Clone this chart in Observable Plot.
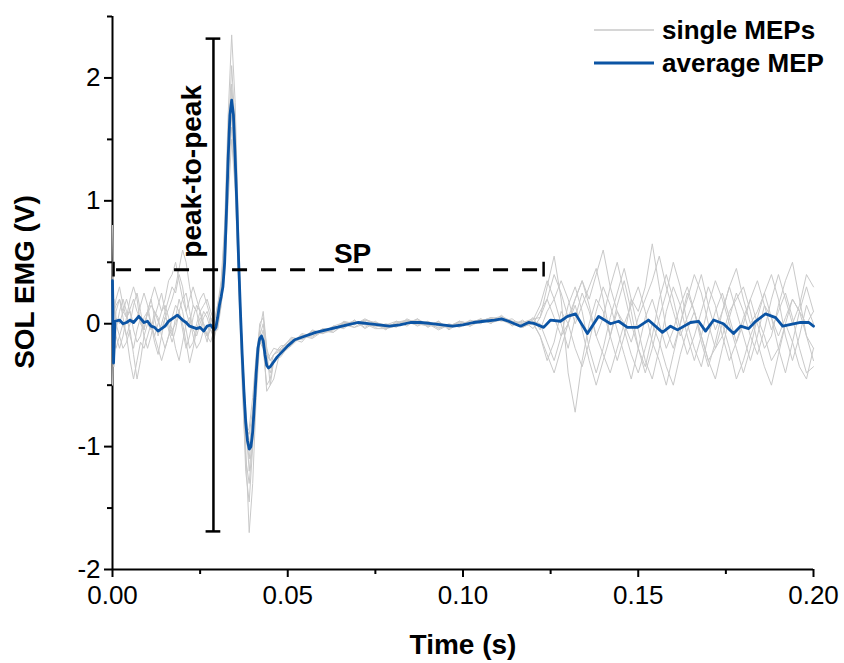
<!DOCTYPE html>
<html><head><meta charset="utf-8">
<script src="https://cdn.jsdelivr.net/npm/d3@7"></script>
<script src="https://cdn.jsdelivr.net/npm/@observablehq/plot@0.6"></script>
<style>body{margin:0;background:#fff;} svg{display:block;}</style>
</head><body><div id="chart"></div>
<script>
// ---------- data ----------
const time = [
  0, 0.0004, 0.001, 0.002, 0.003, 0.004, 0.005, 0.006, 0.007, 0.008, 0.009, 0.010, 0.011, 0.012, 0.013, 0.014, 0.015, 0.016, 0.017, 0.018, 0.019, 0.020, 0.021, 0.022, 0.023, 0.024, 0.025, 0.026, 0.027, 0.028, 0.029,
  0.030, 0.031, 0.032, 0.033, 0.034, 0.035, 0.036, 0.037, 0.038, 0.039, 0.040, 0.041, 0.042, 0.043, 0.044, 0.045, 0.046,
  0.048, 0.051, 0.054, 0.057, 0.060, 0.063, 0.066, 0.069, 0.072, 0.075, 0.078, 0.081, 0.084, 0.087, 0.090, 0.093, 0.096, 0.099, 0.102, 0.105, 0.108, 0.111, 0.114, 0.117, 0.120,
  0.122, 0.124, 0.126, 0.128, 0.130, 0.132, 0.134, 0.136, 0.138, 0.140, 0.142, 0.144, 0.146, 0.148, 0.150, 0.152, 0.154, 0.156, 0.158, 0.160,
  0.162, 0.164, 0.166, 0.168, 0.170, 0.172, 0.174, 0.176, 0.178, 0.180, 0.182, 0.184, 0.186, 0.188, 0.190, 0.192, 0.194, 0.196, 0.198, 0.200
];
const trace1 = [
  0.8, 0.1, 0.15,0.2,0.1,0.05,0.12,0.2,0.1,0.05,0.0,0.08, 0.15,0.1,0.02,-0.05,0.05,0.12,0.2,0.3,0.45,0.6, 0.5,0.3,0.15,0.1,0.2,0.25,0.15,0.05,0.0,
  0.15,0.35,0.8,1.7,2.35,1.8,0.7,-0.3,-1.0,-1.7,-1.3,-0.6,-0.15,-0.05,-0.3,-0.4,-0.3,
  -0.24,-0.17,-0.09,-0.11,-0.04,-0.07,0.01,-0.03,0.03,0.0,-0.05,0.02,-0.02,0.04,-0.03,0.02,-0.05,0.01,-0.02,0.04,0.0,0.07,-0.02,0.03,-0.04,
  0.05,0.3,0.55,0.2,-0.4,-0.72,-0.3,0.0,0.2,0.1, -0.1,0.15,0.35,0.1,-0.2,-0.35,-0.1,0.2,0.4,0.2, -0.05,-0.25,-0.1,0.1,0.3,0.15,-0.1,-0.3,-0.15,0.05, 0.2,0.0,-0.2,-0.1,0.15,0.35,0.5,0.2,-0.1,-0.2
];
const trace2 = [
  -0.5, 0.2, 0.0,-0.1,-0.2,-0.15,-0.05,-0.25,-0.45,-0.3,-0.1,0.0, -0.05,0.1,0.05,-0.1,-0.2,-0.1,0.05,0.15,0.1,0.0, -0.15,-0.32,-0.2,-0.05,0.05,0.0,-0.1,-0.05,-0.1,
  0.0,0.2,0.6,1.5,2.1,1.6,0.6,-0.4,-1.2,-1.45,-1.0,-0.4,-0.05,0.1,-0.2,-0.5,-0.45,
  -0.2,-0.12,-0.15,-0.05,-0.08,-0.02,-0.04,0.03,-0.03,0.02,-0.04,0.0,0.03,-0.02,0.02,-0.04,0.0,-0.03,0.03,0.0,0.05,0.02,0.04,-0.02,0.05,
  -0.05,0.1,0.2,0.35,0.2,0.0,0.15,0.3,0.45,0.2, -0.1,-0.3,-0.1,0.2,0.1,0.3,0.65,0.3,-0.05,-0.2, 0.0,0.25,0.1,-0.15,-0.35,-0.15,0.1,0.3,0.1,-0.1, -0.3,-0.1,0.15,0.05,-0.2,-0.4,-0.15,0.1,0.3,0.1
];
const trace3 = [
  0.3,-0.2, 0.1,0.2,0.05,-0.1,0.0,0.15,0.25,0.1,-0.05,0.1, 0.2,0.05,-0.1,0.0,0.1,0.2,0.3,0.25,0.4,0.3, 0.1,0.0,0.15,0.1,-0.05,0.05,0.1,0.0,-0.08,
  0.1,0.3,0.7,1.4,1.95,1.5,0.5,-0.2,-0.8,-1.2,-0.9,-0.45,-0.1,0.0,-0.25,-0.3,-0.25,
  -0.22,-0.14,-0.1,-0.09,-0.04,-0.05,0.02,0.0,0.02,-0.03,0.0,-0.03,0.04,0.0,-0.02,0.02,-0.04,0.02,0.0,0.04,0.01,0.03,0.0,-0.03,0.02,
  0.0,-0.15,-0.3,-0.1,0.15,0.3,0.1,-0.2,-0.4,-0.2, 0.05,0.25,0.45,0.2,-0.05,-0.3,-0.45,-0.2,0.1,0.3, 0.15,-0.1,-0.3,-0.1,0.15,0.35,0.2,0.0,-0.2,-0.4, -0.2,0.05,0.25,0.4,0.2,-0.1,-0.3,-0.1,0.15,0.0
];
const trace4 = [
  0.1,0.0, -0.1,-0.2,-0.1,0.05,0.1,-0.05,-0.15,-0.1,0.05,0.1, 0.0,-0.15,-0.25,-0.1,0.05,0.0,-0.1,0.05,0.2,0.1, -0.05,-0.2,-0.15,0.0,0.1,-0.05,-0.15,0.0,-0.02,
  0.05,0.2,0.5,1.3,1.8,1.3,0.5,-0.2,-0.7,-1.0,-0.75,-0.3,-0.1,-0.2,-0.35,-0.35,-0.25,
  -0.18,-0.17,-0.08,-0.1,-0.07,-0.02,-0.03,0.03,-0.04,0.01,-0.01,0.02,0.0,0.04,-0.01,-0.03,-0.02,0.02,-0.02,0.02,0.05,0.03,-0.01,0.02,0.0,
  0.1,0.2,0.05,-0.1,0.0,0.2,0.35,0.15,-0.1,-0.25, -0.4,-0.2,0.0,0.15,0.3,0.1,-0.15,-0.3,-0.5,-0.25, 0.0,0.2,0.4,0.25,0.0,-0.2,-0.1,0.1,0.2,0.3, 0.1,-0.15,-0.35,-0.5,-0.25,0.0,0.2,0.1,-0.1,-0.3
];
const trace5 = [
  -0.2,0.15, 0.05,0.0,0.1,0.2,0.1,0.0,0.05,0.15,0.25,0.15, 0.0,-0.1,0.0,0.1,0.15,0.05,-0.05,0.0,0.1,-0.05, -0.2,-0.1,0.05,0.15,0.1,0.0,-0.1,0.05,-0.05,
  0.1,0.25,0.6,1.3,1.7,1.25,0.4,-0.3,-0.85,-0.9,-0.7,-0.35,-0.15,-0.2,-0.5,-0.45,-0.3,
  -0.27,-0.15,-0.12,-0.06,-0.08,-0.05,0.01,-0.01,0.04,0.0,-0.03,0.01,0.03,0.0,0.02,-0.02,-0.01,0.0,0.02,0.03,0.04,0.06,0.02,0.0,0.03,
  0.15,0.35,0.2,0.0,-0.2,0.05,0.25,0.1,-0.1,0.05, 0.3,0.5,0.25,0.0,-0.2,-0.4,-0.2,0.05,0.25,0.5, 0.3,0.0,-0.2,-0.35,-0.1,0.1,0.25,0.05,-0.15,0.0, 0.2,0.35,0.15,-0.05,0.1,0.25,0.05,-0.2,-0.4,-0.35
];
const trace6 = [
  0.5,-0.35, -0.05,0.1,0.2,0.1,-0.1,-0.2,-0.05,0.05,-0.1,-0.2, -0.1,0.05,0.15,0.25,0.1,-0.05,-0.15,-0.05,0.1,0.2, 0.25,0.1,-0.05,-0.1,0.0,0.1,0.05,-0.05,-0.12,
  0.0,0.15,0.45,1.2,1.6,1.15,0.35,-0.35,-0.9,-0.85,-0.6,-0.25,-0.05,-0.15,-0.3,-0.25,-0.2,
  -0.22,-0.11,-0.13,-0.08,-0.05,-0.04,0.0,0.02,-0.01,-0.02,-0.03,-0.01,0.02,0.02,0.0,0.01,-0.03,-0.02,0.01,0.03,0.02,0.05,0.0,-0.02,0.0,
  -0.1,-0.3,-0.15,0.1,0.0,-0.2,-0.35,-0.15,0.1,0.3, 0.15,-0.05,-0.25,-0.45,-0.2,0.05,0.2,0.0,-0.2,-0.05, 0.15,0.3,0.1,-0.1,-0.3,-0.45,-0.2,0.05,0.25,0.1, -0.1,-0.25,-0.05,0.2,0.4,0.2,0.0,0.15,0.4,0.3
];
const trace7 = [
  -0.1,0.1, 0.2,0.3,0.15,0.05,0.2,0.3,0.2,0.0,-0.05,0.1, 0.2,0.3,0.2,0.1,0.2,0.35,0.4,0.5,0.35,0.2, 0.1,0.2,0.3,0.2,0.1,0.15,0.2,0.1,0.02,
  0.15,0.3,0.75,1.55,1.9,1.45,0.6,-0.25,-0.9,-1.1,-0.8,-0.35,0.0,0.05,-0.2,-0.3,-0.25,
  -0.2,-0.13,-0.12,-0.06,-0.08,-0.02,0.01,0.0,0.03,0.01,-0.02,0.0,0.02,0.03,-0.02,0.0,-0.03,0.02,0.0,0.02,0.05,0.04,0.02,0.01,0.04,
  0.05,0.2,0.4,0.25,0.05,0.2,0.35,0.2,0.4,0.6, 0.3,0.1,0.0,-0.15,0.05,0.2,0.35,0.55,0.3,0.1, -0.1,0.05,0.2,0.4,0.15,-0.05,0.1,0.3,0.45,0.2, 0.0,0.1,0.25,0.05,-0.1,0.05,0.2,0.1,0.0,0.1
];
const trace8 = [
  0.0,-0.15, -0.2,-0.1,0.0,-0.1,-0.3,-0.45,-0.3,-0.15,-0.2,-0.1, 0.0,-0.1,-0.2,-0.3,-0.2,-0.1,-0.05,-0.2,-0.3,-0.15, 0.0,0.05,-0.1,-0.2,-0.15,-0.05,-0.1,-0.15,-0.05,
  -0.05,0.15,0.4,1.0,1.5,1.1,0.3,-0.5,-1.1,-1.3,-0.95,-0.45,-0.1,-0.15,-0.55,-0.5,-0.3,
  -0.25,-0.18,-0.1,-0.12,-0.06,-0.07,-0.01,-0.03,0.0,-0.04,-0.04,-0.02,0.01,-0.01,0.0,-0.05,-0.01,-0.02,0.0,0.01,0.03,0.03,0.01,-0.03,0.01,
  -0.1,-0.25,-0.4,-0.2,0.0,0.15,-0.05,-0.3,-0.5,-0.3, -0.1,0.1,-0.05,-0.25,-0.4,-0.2,0.0,-0.15,-0.35,-0.5, -0.25,-0.05,0.1,-0.1,-0.3,-0.2,0.0,-0.2,-0.45,-0.3, -0.1,0.05,-0.1,-0.3,-0.2,0.0,-0.15,-0.35,-0.45,-0.2
];
const avgTime = [
  0, 0.0003, 0.0007, 0.002, 0.003, 0.004, 0.005, 0.006, 0.0075, 0.009, 0.010, 0.011, 0.012, 0.013, 0.014, 0.015, 0.016, 0.017, 0.0185, 0.020, 0.021, 0.022, 0.023, 0.024, 0.025, 0.026, 0.027, 0.028, 0.029,
  0.0295, 0.030, 0.0305, 0.031, 0.0315, 0.032, 0.0325, 0.033, 0.0335, 0.034, 0.0345, 0.035, 0.0355, 0.036, 0.0365, 0.037, 0.0375, 0.038, 0.0385, 0.039, 0.0395, 0.040, 0.0405, 0.041, 0.0415, 0.042, 0.0425, 0.043, 0.0435, 0.044, 0.0445, 0.045, 0.047,
  0.050, 0.052, 0.055, 0.058, 0.061, 0.064, 0.067, 0.070, 0.073, 0.076, 0.079, 0.082, 0.085, 0.088, 0.091, 0.094, 0.097, 0.100, 0.103, 0.106, 0.109, 0.111, 0.113, 0.1164, 0.1187, 0.1205,
  0.123, 0.125, 0.1278, 0.1298, 0.1321, 0.1355, 0.1387, 0.1421, 0.1444, 0.1469, 0.1498, 0.1529, 0.1569, 0.1592, 0.1612, 0.1649, 0.1672, 0.1692, 0.1715, 0.1743, 0.1772, 0.1792, 0.1815, 0.1835, 0.1863, 0.1892, 0.1912, 0.1963, 0.1986, 0.2
];
const avgValue = [
  0.35, -0.32, 0.02, 0.03, 0.0, 0.01, 0.03, 0.01, 0.06, 0.01, 0.02, -0.02, -0.03, -0.06, -0.04, -0.02, 0.02, 0.04, 0.07, 0.03, 0.01, -0.02, -0.03, -0.04, -0.03, -0.06, -0.02, -0.01, -0.05,
  -0.03, 0.05, 0.15, 0.22, 0.3, 0.5, 0.9, 1.35, 1.7, 1.82, 1.7, 1.35, 0.95, 0.5, 0.1, -0.25, -0.55, -0.8, -0.95, -1.02, -1.0, -0.88, -0.65, -0.4, -0.2, -0.12, -0.1, -0.14, -0.25, -0.34, -0.36, -0.35, -0.27,
  -0.18, -0.13, -0.1, -0.07, -0.05, -0.03, -0.01, 0.01, 0.0, -0.01, -0.02, -0.01, 0.01, 0.01, 0.0, -0.01, -0.02, -0.01, 0.01, 0.02, 0.03, 0.04, 0.02, -0.02, 0.01, 0.0,
  -0.03, 0.03, 0.02, 0.06, 0.08, -0.08, 0.06, 0.0, 0.02, -0.03, -0.03, 0.03, -0.07, -0.02, -0.05, 0.01, 0.02, -0.06, 0.03, 0.0, -0.08, -0.02, -0.04, 0.02, 0.08, 0.05, -0.02, 0.01, 0.01, -0.02
];
const xTicks = [0, 0.05, 0.10, 0.15, 0.20];
const xMinorTicks = [0.025, 0.075, 0.125, 0.175];
const yTicks = [-2, -1, 0, 1, 2];
const yMinorTicks = [-1.5, -0.5, 0.5, 1.5, 2.5];
const peakToPeak = {x: 0.0288, top: 2.32, bottom: -1.69, label: "peak-to-peak"};
const silentPeriod = {y: 0.44, start: 0.0003, end: 0.123, label: "SP"};
const seriesNames = ["single MEPs", "average MEP"];
const axisTitles = {x: "Time (s)", y: "SOL EMG (V)"};

// ---------- build ----------
const traces = [trace1, trace2, trace3, trace4, trace5, trace6, trace7, trace8];
traces.forEach((tr, k) => { if (tr.length !== time.length) console.error("trace", k + 1, tr.length, time.length); });
if (avgTime.length !== avgValue.length) console.error("avg", avgTime.length, avgValue.length);
const singleRows = traces.flatMap((vals, k) => vals.map((v, j) => ({t: time[j], v, trace: k})));
const avgRows = avgTime.map((t, i) => ({t, v: avgValue[i]}));

const FONT = "Arial, 'Liberation Sans', Helvetica, sans-serif";
const GRAY = "#c9c9c9";
const BLUE = "#0b54a4";

const chart = Plot.plot({
  width: 844, height: 663,
  marginLeft: 112, marginRight: 31, marginTop: 16, marginBottom: 94,
  style: {fontFamily: FONT, fontSize: "26px", background: "white", overflow: "visible", color: "black"},
  x: {domain: [0, 0.2], axis: null},
  y: {domain: [-2, 2.5], axis: null},
  marks: [
    Plot.ruleX([0], {stroke: "black", strokeWidth: 2}),
    Plot.ruleY([-2], {stroke: "black", strokeWidth: 2}),
    Plot.axisX(xTicks, {tickSize: 8, tickPadding: 8, strokeWidth: 2, tickFormat: d3.format(".2f"), label: null, fontSize: 26}),
    Plot.axisX(xMinorTicks, {tickSize: 5, strokeWidth: 2, tickFormat: () => "", label: null}),
    Plot.axisY(yTicks, {tickSize: 8, tickPadding: 4, strokeWidth: 2, tickFormat: d => String(d), label: null, fontSize: 26}),
    Plot.axisY(yMinorTicks, {tickSize: 5, strokeWidth: 2, tickFormat: () => "", label: null}),
    Plot.line(singleRows, {x: "t", y: "v", z: "trace", stroke: GRAY, strokeWidth: 1}),
    Plot.line(avgRows, {x: "t", y: "v", stroke: BLUE, strokeWidth: 2.8, strokeLinejoin: "round"}),
    // peak-to-peak bracket
    Plot.ruleX([peakToPeak], {x: "x", y1: "top", y2: "bottom", stroke: "black", strokeWidth: 2.5}),
    Plot.ruleY([peakToPeak.top, peakToPeak.bottom], {x1: peakToPeak.x - 0.0021, x2: peakToPeak.x + 0.0021, stroke: "black", strokeWidth: 2.5}),
    Plot.text([peakToPeak], {x: d => d.x - 0.0062, y: d => 1.24, text: "label", rotate: -90, fontWeight: "bold", fontSize: 28, fill: "black"}),
    // silent period
    Plot.ruleY([silentPeriod], {y: "y", x1: "start", x2: "end", stroke: "black", strokeWidth: 3, strokeDasharray: "15,14", strokeDashoffset: -3}),
    Plot.ruleX([silentPeriod.start, silentPeriod.end], {y1: silentPeriod.y - 0.06, y2: silentPeriod.y + 0.06, stroke: "black", strokeWidth: 2.5}),
    Plot.text([silentPeriod], {x: 0.0685, y: d => d.y + 0.13, text: "label", fontWeight: "bold", fontSize: 28, fill: "black"})
  ]
});

const svg = d3.select(chart);
// axis titles
svg.append("text").attr("x", 463).attr("y", 654).attr("text-anchor", "middle")
  .attr("font-family", FONT).attr("font-weight", "bold").attr("font-size", 28).attr("fill", "black").text(axisTitles.x);
svg.append("text").attr("transform", "translate(34,282) rotate(-90)").attr("text-anchor", "middle")
  .attr("font-family", FONT).attr("font-weight", "bold").attr("font-size", 28).attr("fill", "black").text(axisTitles.y);
// legend
const leg = svg.append("g");
[[GRAY, 1.5, 30], [BLUE, 3, 63]].forEach(([c, w, y], i) => {
  leg.append("line").attr("x1", 594).attr("x2", 654).attr("y1", y).attr("y2", y).attr("stroke", c).attr("stroke-width", w);
  leg.append("text").attr("x", 662).attr("y", y + 9).attr("text-anchor", "start").attr("font-family", FONT).attr("font-weight", "bold")
    .attr("font-size", 26).attr("fill", "black").text(seriesNames[i]);
});

document.getElementById("chart").appendChild(chart);
</script>
</body></html>
